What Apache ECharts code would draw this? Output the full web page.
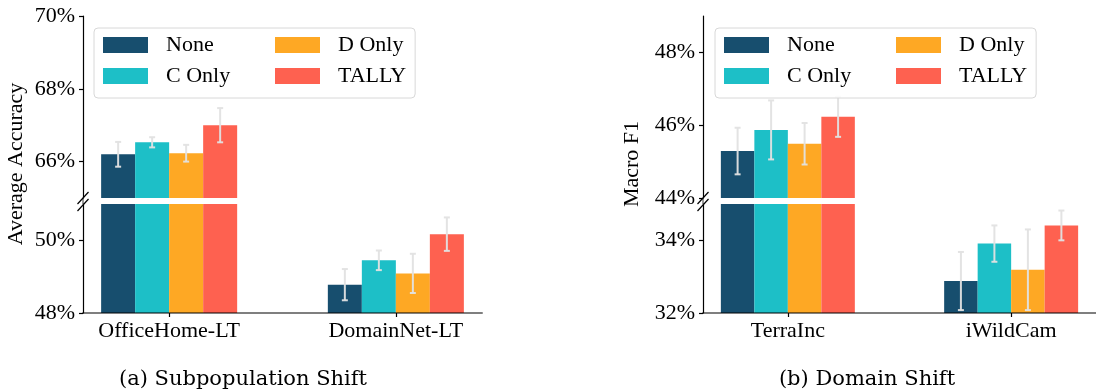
<!DOCTYPE html>
<html>
<head>
<meta charset="utf-8">
<script src="https://cdn.jsdelivr.net/npm/echarts@6/dist/echarts.min.js"></script>
<style>
  html, body { margin: 0; padding: 0; background: #fff; }
  #main { width: 1096px; height: 389px; }
</style>
</head>
<body>
<div id="main"></div>
<script>
// ---- data ----
const methods = ['None', 'C Only', 'D Only', 'TALLY'];
const methodColors = ['#174e6e', '#1dbfc7', '#fea824', '#fe6150'];

const subpopCategories = ['OfficeHome-LT', 'DomainNet-LT'];
// one row per method: [OfficeHome-LT, DomainNet-LT]
const subpopMean = [
    [66.20, 48.78],
    [66.53, 49.45],
    [66.23, 49.09],
    [67.00, 50.17]
];
const subpopErr = [
    [0.34, 0.43],
    [0.14, 0.27],
    [0.23, 0.54],
    [0.47, 0.46]
];
const subpopUpperTicks = [66, 68, 70];
const subpopLowerTicks = [48, 50];

const domainCategories = ['TerraInc', 'iWildCam'];
const domainMean = [
    [45.29, 32.88],
    [45.87, 33.91],
    [45.49, 33.19],
    [46.23, 34.41]
];
const domainErr = [
    [0.64, 0.80],
    [0.81, 0.50],
    [0.57, 1.11],
    [0.55, 0.41]
];
const domainUpperTicks = [44, 46, 48];
const domainLowerTicks = [32, 34];

// ---- layout ----
const FONT = 'Liberation Serif';
const CAPTION_FONT = 'DejaVu Serif';
const X_MIN = -0.38;
const X_MAX = 1.38;
const BAR_W = 0.15;
const UPPER_TOP = 16, UPPER_BOTTOM = 198, LOWER_TOP = 204, LOWER_BOTTOM = 313;

const panels = [
    {
        left: 83, width: 399, cats: subpopCategories, mean: subpopMean, err: subpopErr,
        upper: [65, 70], lower: [48, 51], upperTicks: subpopUpperTicks, lowerTicks: subpopLowerTicks,
        yName: 'Average Accuracy', yNameX: 16, caption: '(a) Subpopulation Shift', captionX: 243, legendLeft: 94
    },
    {
        left: 703, width: 398, cats: domainCategories, mean: domainMean, err: domainErr,
        upper: [44, 49], lower: [32, 35], upperTicks: domainUpperTicks, lowerTicks: domainLowerTicks,
        yName: 'Macro F1', yNameX: 632, caption: '(b) Domain Shift', captionX: 867, legendLeft: 715
    }
];

function makeRenderer(offset, color, axisMin) {
    return function (params, api) {
        const cs = params.coordSys;
        const x = api.value(0), v = api.value(1), e = api.value(2);
        const children = [];
        const pl = api.coord([x + offset - BAR_W / 2, v]);
        const pr = api.coord([x + offset + BAR_W / 2, axisMin]);
        const yTop = Math.max(pl[1], cs.y);
        const yBot = Math.min(pr[1], cs.y + cs.height);
        if (yBot > yTop) {
            children.push({
                type: 'rect',
                shape: { x: pl[0], y: yTop, width: pr[0] - pl[0], height: yBot - yTop },
                style: { fill: color }
            });
        }
        // error bar, clipped to this segment
        const cx = api.coord([x + offset, v])[0];
        const eTop = api.coord([x + offset, v + e])[1];
        const eBot = api.coord([x + offset, v - e])[1];
        const t = Math.max(eTop, cs.y), b = Math.min(eBot, cs.y + cs.height);
        const errStyle = { stroke: 'rgba(225,225,225,0.95)', lineWidth: 2 };
        if (b > t) {
            children.push({ type: 'line', shape: { x1: cx, y1: t, x2: cx, y2: b }, style: errStyle });
            if (eTop >= cs.y) {
                children.push({ type: 'line', shape: { x1: cx - 3, y1: eTop, x2: cx + 3, y2: eTop }, style: errStyle });
            }
            if (eBot <= cs.y + cs.height) {
                children.push({ type: 'line', shape: { x1: cx - 3, y1: eBot, x2: cx + 3, y2: eBot }, style: errStyle });
            }
        }
        return { type: 'group', children: children };
    };
}

const grid = [], xAxis = [], yAxis = [], series = [], legend = [], graphic = [];

panels.forEach(function (p, pi) {
    const segs = [
        { top: UPPER_TOP, bottom: UPPER_BOTTOM, range: p.upper, ticks: p.upperTicks, isLower: false },
        { top: LOWER_TOP, bottom: LOWER_BOTTOM, range: p.lower, ticks: p.lowerTicks, isLower: true }
    ];
    segs.forEach(function (s, si) {
        const gi = pi * 2 + si;
        grid.push({ left: p.left, top: s.top, width: p.width, height: s.bottom - s.top });
        xAxis.push({
            gridIndex: gi, type: 'value', min: X_MIN, max: X_MAX, z: 5,
            show: s.isLower,
            axisLine: { show: true, onZero: false, lineStyle: { color: 'rgba(0,0,0,0.5)', width: 2 } },
            axisTick: { show: true, customValues: [0, 1], length: 4, lineStyle: { color: '#000', width: 1.2 } },
            axisLabel: {
                customValues: [0, 1], margin: 7, color: '#000', fontFamily: FONT, fontSize: 22,
                formatter: function (v) { return p.cats[Math.round(v)]; }
            },
            splitLine: { show: false }
        });
        yAxis.push({
            gridIndex: gi, type: 'value', min: s.range[0], max: s.range[1],
            axisLine: { show: true, onZero: false, lineStyle: { color: '#000', width: 1.2 } },
            axisTick: { show: true, customValues: s.ticks, length: 4, lineStyle: { color: '#000', width: 1.2 } },
            axisLabel: {
                customValues: s.ticks, margin: 8, color: '#000', fontFamily: FONT, fontSize: 22,
                formatter: '{value}%'
            },
            splitLine: { show: false }
        });
        methods.forEach(function (m, mi) {
            const offset = (mi - 1.5) * BAR_W;
            series.push({
                type: 'custom',
                name: m,
                xAxisIndex: gi,
                yAxisIndex: gi,
                itemStyle: { color: methodColors[mi] },
                data: p.cats.map(function (c, ci) { return [ci, p.mean[mi][ci], p.err[mi][ci]]; }),
                renderItem: makeRenderer(offset, methodColors[mi], s.range[0]),
                z: 2,
                silent: true
            });
        });
    });

    legend.push({
        left: p.legendLeft, top: 28, orient: 'vertical', height: 60, itemGap: 7,
        icon: 'rect', itemWidth: 45, itemHeight: 16, selectedMode: false,
        backgroundColor: 'rgba(255,255,255,0.85)', borderColor: '#d8d8d8', borderWidth: 1, borderRadius: 4,
        padding: [5, 9, 10, 9], z: 10,
        data: methods.map(function (n, i) { return { name: n, itemStyle: { color: methodColors[i] } }; }),
        formatter: function (n) { return (methods.indexOf(n) < 2 ? '{c1|' : '{c2|') + n + '}'; },
        textStyle: {
            fontFamily: FONT, fontSize: 22, color: '#000', lineHeight: 24,
            rich: {
                c1: { width: 102, padding: [0, 0, 0, 13], fontFamily: FONT, fontSize: 22, color: '#000', lineHeight: 24 },
                c2: { padding: [0, 0, 0, 13], fontFamily: FONT, fontSize: 22, color: '#000', lineHeight: 24 }
            }
        }
    });

    // spine continues through the gap, crossed by two break marks
    graphic.push({
        type: 'line', z: 20,
        shape: { x1: p.left, y1: UPPER_BOTTOM, x2: p.left, y2: LOWER_TOP },
        style: { stroke: '#555', lineWidth: 1.2 }
    });
    [UPPER_BOTTOM, LOWER_TOP + 1].forEach(function (yc) {
        graphic.push({
            type: 'line', z: 20,
            shape: { x1: p.left - 5.5, y1: yc + 6, x2: p.left + 5.5, y2: yc - 6 },
            style: { stroke: '#000', lineWidth: 1.2 }
        });
    });
    graphic.push({
        type: 'text', x: p.yNameX, y: 164, rotation: Math.PI / 2,
        style: { text: p.yName, fontFamily: FONT, fontSize: 22, fill: '#000', align: 'center', verticalAlign: 'middle' }
    });
    graphic.push({
        type: 'text', x: p.captionX, y: 380,
        style: { text: p.caption, fontFamily: CAPTION_FONT, fontSize: 21, fill: '#000', align: 'center', verticalAlign: 'middle' }
    });
});

const chart = echarts.init(document.getElementById('main'));
chart.setOption({
    animation: false,
    backgroundColor: '#fff',
    grid: grid,
    xAxis: xAxis,
    yAxis: yAxis,
    legend: legend,
    graphic: graphic,
    series: series
});
</script>
</body>
</html>
